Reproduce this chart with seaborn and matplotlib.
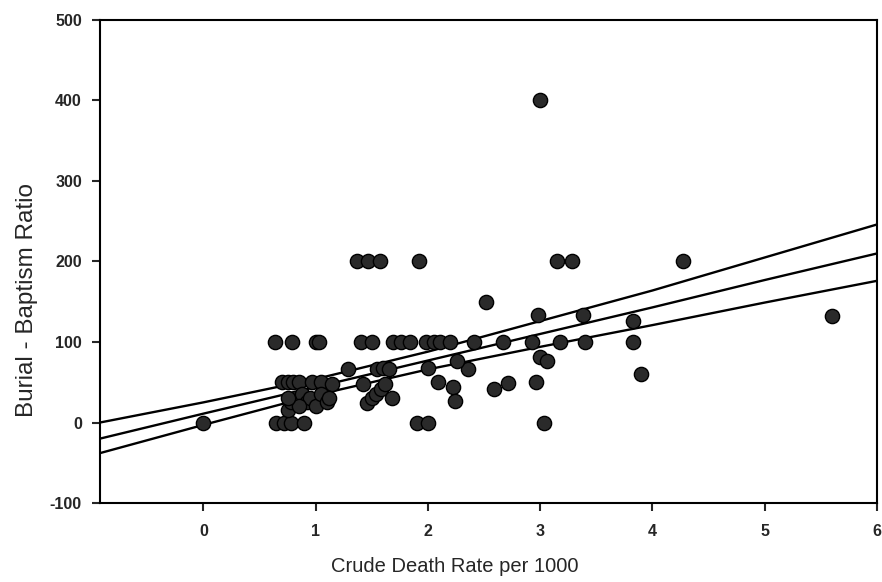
import numpy as np
import pandas as pd
import matplotlib
matplotlib.use("Agg")
import matplotlib.pyplot as plt
import seaborn as sns

# crude death rate per 1000 (x) and burial-baptism ratio (y)
death_rate = [
    0.0,
    0.65, 0.72, 0.78, 0.90,
    0.64, 0.79, 1.00, 1.03,
    0.70, 0.75, 0.80, 0.85, 0.97, 1.05, 1.15,
    0.75, 0.78, 0.82, 0.88, 0.92, 0.95, 1.00, 1.05, 1.10, 1.12, 0.85, 0.75,
    1.29,
    1.37, 1.47, 1.57, 1.92,
    1.40, 1.50, 1.69, 1.76, 1.84, 1.98, 2.05, 2.11, 2.20, 2.41, 2.67, 2.93, 3.18, 3.40, 3.83,
    2.52, 2.98, 3.38, 5.60, 3.83,
    3.15, 3.28, 4.27,
    3.00, 3.00, 3.06,
    1.55, 1.60, 1.65, 2.00, 2.36, 2.26,
    1.42, 1.46, 1.50, 1.54, 1.58, 1.62, 1.68,
    2.09, 2.22, 2.24, 2.59, 2.71, 2.96, 3.90,
    1.90, 2.00, 3.03,
]
burial_ratio = [
    0,
    0, 0, 0, 0,
    100, 100, 100, 100,
    50, 50, 50, 50, 50, 50, 48,
    15, 25, 30, 35, 25, 30, 20, 35, 25, 30, 20, 30,
    67,
    200, 200, 200, 200,
    100, 100, 100, 100, 100, 100, 100, 100, 100, 100, 100, 100, 100, 100, 100,
    150, 133, 134, 132, 126,
    200, 200, 200,
    400, 81, 76,
    67, 68, 66, 68, 67, 77,
    48, 24, 30, 36, 42, 48, 30,
    50, 44, 27, 42, 49, 50, 60,
    0, 0, 0,
]

# regression line and its confidence band
fit_x = [-0.92, 0, 1, 2, 3, 4, 5, 6]
fit_mid = [-20, 11, 44, 77, 110, 143, 177, 210]
fit_upper = [0, 25, 54, 88, 126, 164, 205, 246]
fit_lower = [-38, -3, 34, 66, 94, 121, 149, 176]

df = pd.DataFrame({"rate": death_rate, "ratio": burial_ratio})

plt.rcParams["axes.unicode_minus"] = False
sns.set_style("ticks")
plt.rcParams["font.family"] = ["Liberation Sans", "DejaVu Sans"]

fig = plt.figure(figsize=(8.82, 5.82), dpi=100)
ax = fig.add_axes([0.1134, 0.1357, 0.881, 0.830])

for line in (fit_mid, fit_upper, fit_lower):
    sns.lineplot(x=fit_x, y=line, ax=ax, color="black", lw=1.7, zorder=2)

sns.scatterplot(data=df, x="rate", y="ratio", ax=ax, s=105, color="#2a2a2a",
                edgecolor="black", linewidth=1.0, zorder=3)

ax.set_xlim(-0.92, 6.0)
ax.set_ylim(-100, 500)
ax.set_xticks(range(0, 7))
ax.set_yticks(range(-100, 501, 100))
for sp in ax.spines.values():
    sp.set_visible(True)
    sp.set_linewidth(1.5)
    sp.set_color("black")
ax.tick_params(direction="out", length=6, width=1.5, labelsize=11.5)
ax.tick_params(axis="x", pad=9)
ax.tick_params(axis="y", pad=7)
for lab in ax.get_xticklabels() + ax.get_yticklabels():
    lab.set_fontweight("bold")

ax.set_xlabel("Crude Death Rate per 1000", fontsize=14.5)
ax.set_ylabel("Burial - Baptism Ratio", fontsize=17.5)
ax.xaxis.set_label_coords(0.456, -0.112)
ax.yaxis.set_label_coords(-0.08, 0.42)

fig.savefig("out.png", dpi=100)
